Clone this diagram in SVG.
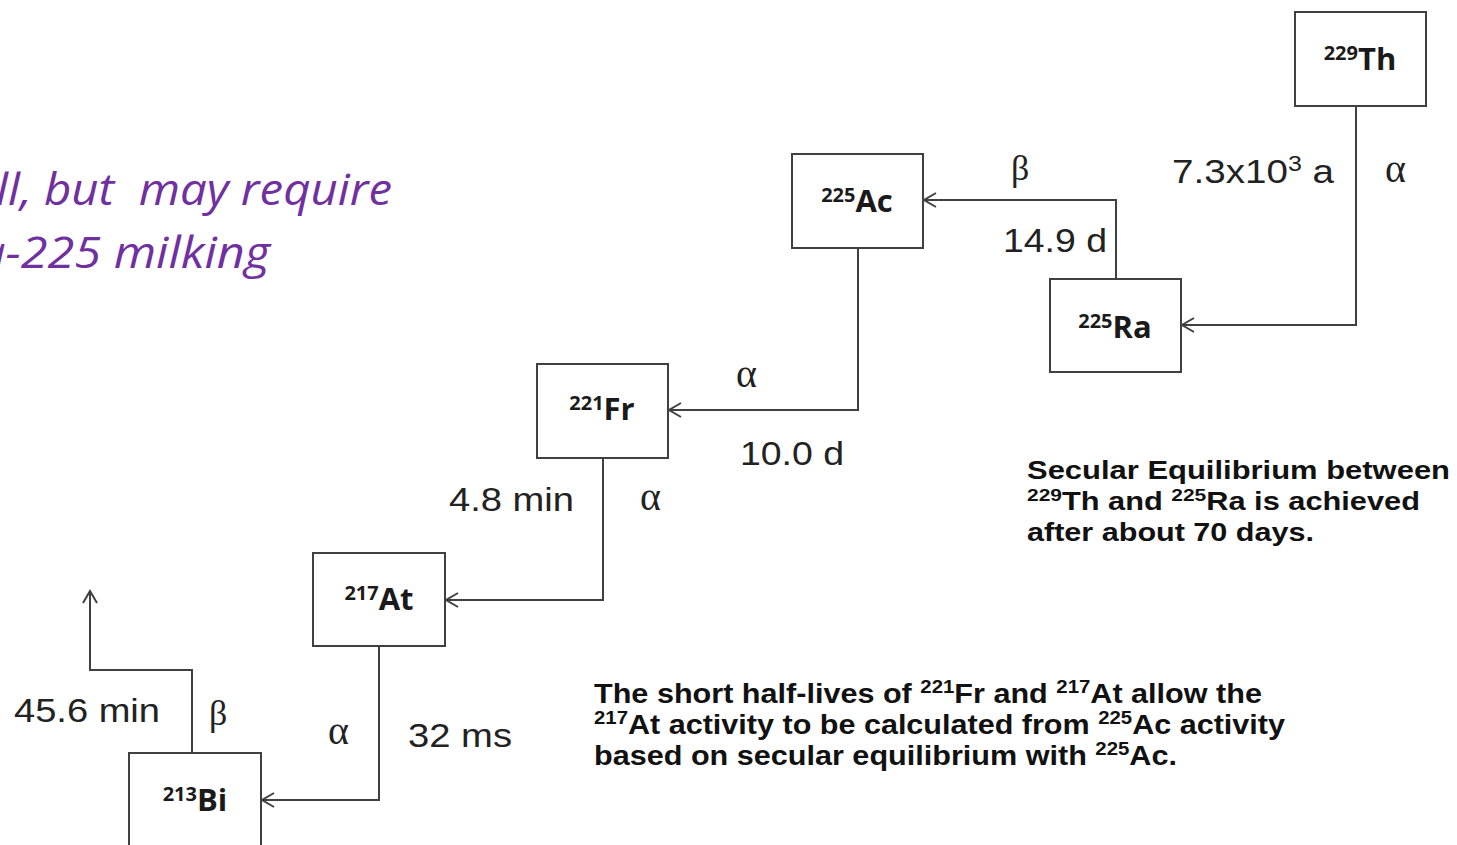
<svg xmlns="http://www.w3.org/2000/svg" width="1457" height="845" viewBox="0 0 1457 845">
<defs>
<style>
.box{fill:#fff;stroke:#404040;stroke-width:2}
.con{fill:none;stroke:#404040;stroke-width:2}
.nuc{font-family:"Open Sans","Liberation Sans",sans-serif;font-weight:bold;fill:#1a1a1a;text-anchor:middle}
.nuc .m{font-size:31px}
.nuc .s{font-size:20px}
.hl{font-family:"Liberation Sans",Arial,sans-serif;font-size:34px;fill:#222}
.gk{font-family:"Liberation Serif","Times New Roman",serif;font-size:36px;fill:#222}
.ga{font-family:"Liberation Serif","Times New Roman",serif;font-size:40px;fill:#222}
.note{font-family:"Liberation Sans",Arial,sans-serif;font-weight:bold;fill:#111}
.purple{font-family:"Open Sans","Noto Sans",sans-serif;font-style:italic;font-size:44px;fill:#7030A0}
</style>
<marker id="arr" markerUnits="userSpaceOnUse" markerWidth="20" markerHeight="20" viewBox="-14 -10 16 20" refX="0" refY="0" orient="auto">
<path d="M-12,-7 L0,0 L-12,7" fill="none" stroke="#404040" stroke-width="2"/>
</marker>
</defs>
<rect width="1457" height="845" fill="#fff"/>

<g id="purple-text">
<text class="purple" x="-4" y="205" textLength="396" lengthAdjust="spacingAndGlyphs">ll, but&#160; may require</text>
<text class="purple" x="-22" y="268" textLength="292" lengthAdjust="spacingAndGlyphs">a-225 milking</text>
</g>

<g id="connectors">
<path class="con" d="M1356,106 V325 H1182" marker-end="url(#arr)"/>
<path class="con" d="M1116,279 V200 H924" marker-end="url(#arr)"/>
<path class="con" d="M858,248 V410 H669" marker-end="url(#arr)"/>
<path class="con" d="M603,458 V600 H446" marker-end="url(#arr)"/>
<path class="con" d="M379,646 V800 H262" marker-end="url(#arr)"/>
<path class="con" d="M192,753 V670 H90 V591" marker-end="url(#arr)"/>
</g>

<g id="node-th229">
<rect class="box" x="1295" y="12" width="131" height="94"/>
<text class="nuc" x="1360" y="70"><tspan class="s" dy="-10">229</tspan><tspan class="m" dy="10">Th</tspan></text>
</g>
<g id="node-ra225">
<rect class="box" x="1050" y="279" width="131" height="93"/>
<text class="nuc" x="1115" y="338"><tspan class="s" dy="-10">225</tspan><tspan class="m" dy="10">Ra</tspan></text>
</g>
<g id="node-ac225">
<rect class="box" x="792" y="154" width="131" height="94"/>
<text class="nuc" x="857" y="212"><tspan class="s" dy="-10">225</tspan><tspan class="m" dy="10">Ac</tspan></text>
</g>
<g id="node-fr221">
<rect class="box" x="537" y="364" width="131" height="94"/>
<text class="nuc" x="602" y="420"><tspan class="s" dy="-10">221</tspan><tspan class="m" dy="10">Fr</tspan></text>
</g>
<g id="node-at217">
<rect class="box" x="313" y="553" width="132" height="93"/>
<text class="nuc" x="379" y="610"><tspan class="s" dy="-10">217</tspan><tspan class="m" dy="10">At</tspan></text>
</g>
<g id="node-bi213">
<rect class="box" x="129" y="753" width="132" height="100"/>
<text class="nuc" x="195" y="811"><tspan class="s" dy="-10">213</tspan><tspan class="m" dy="10">Bi</tspan></text>
</g>

<g id="labels">
<text class="hl" x="1172" y="183" textLength="162" lengthAdjust="spacingAndGlyphs">7.3x10<tspan font-size="22" dy="-12">3</tspan><tspan dy="12"> a</tspan></text>
<text class="ga" x="1385" y="182">α</text>
<text class="gk" x="1011" y="180">β</text>
<text class="hl" x="1003" y="252" textLength="104" lengthAdjust="spacingAndGlyphs">14.9 d</text>
<text class="ga" x="736" y="387">α</text>
<text class="hl" x="740" y="465" textLength="104" lengthAdjust="spacingAndGlyphs">10.0 d</text>
<text class="hl" x="449" y="511" textLength="125" lengthAdjust="spacingAndGlyphs">4.8 min</text>
<text class="ga" x="640" y="510">α</text>
<text class="hl" x="14" y="722" textLength="146" lengthAdjust="spacingAndGlyphs">45.6 min</text>
<text class="gk" x="209" y="725">β</text>
<text class="ga" x="328" y="744">α</text>
<text class="hl" x="408" y="747" textLength="104" lengthAdjust="spacingAndGlyphs">32 ms</text>
</g>

<g id="note-equilibrium" class="note">
<text x="1027" y="479" font-size="25" textLength="423" lengthAdjust="spacingAndGlyphs">Secular Equilibrium between</text>
<text x="1027" y="510" font-size="25" textLength="393" lengthAdjust="spacingAndGlyphs"><tspan font-size="17" dy="-9">229</tspan><tspan dy="9">Th and </tspan><tspan font-size="17" dy="-9">225</tspan><tspan dy="9">Ra is achieved</tspan></text>
<text x="1027" y="541" font-size="25" textLength="287" lengthAdjust="spacingAndGlyphs">after about 70 days.</text>
</g>

<g id="note-halflives" class="note">
<text x="594" y="703" font-size="27" textLength="668" lengthAdjust="spacingAndGlyphs">The short half-lives of <tspan font-size="18" dy="-10">221</tspan><tspan dy="10">Fr and </tspan><tspan font-size="18" dy="-10">217</tspan><tspan dy="10">At allow the</tspan></text>
<text x="594" y="734" font-size="27" textLength="691" lengthAdjust="spacingAndGlyphs"><tspan font-size="18" dy="-10">217</tspan><tspan dy="10">At activity to be calculated from </tspan><tspan font-size="18" dy="-10">225</tspan><tspan dy="10">Ac activity</tspan></text>
<text x="594" y="765" font-size="27" textLength="583" lengthAdjust="spacingAndGlyphs">based on secular equilibrium with <tspan font-size="18" dy="-10">225</tspan><tspan dy="10">Ac.</tspan></text>
</g>
</svg>
